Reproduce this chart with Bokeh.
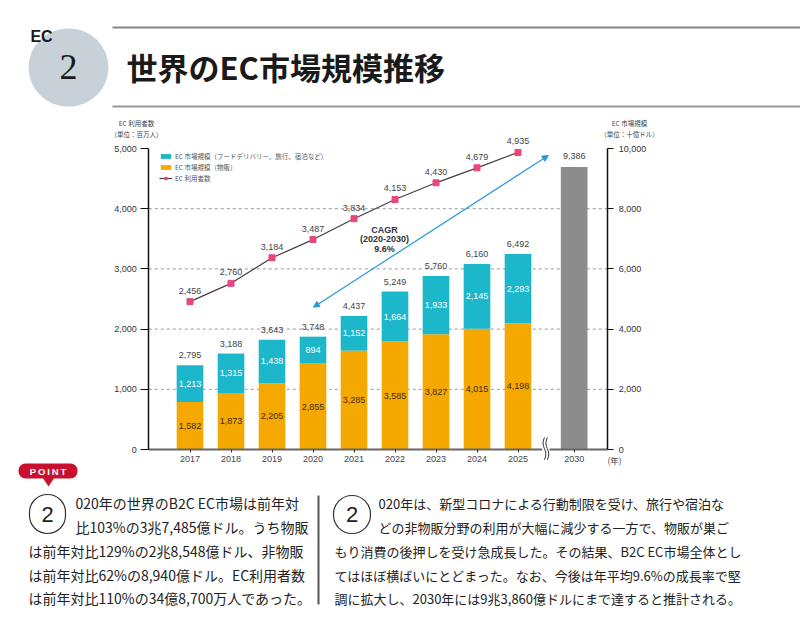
from bokeh.plotting import figure
from bokeh.models import (Range1d, LinearAxis, FixedTicker, NumeralTickFormatter,
                          ColumnDataSource, LabelSet, Label, BoxAnnotation, Grid,
                          PolyAnnotation, Arrow, NormalHead, Legend, LegendItem)
from bokeh.embed import file_html
from bokeh.resources import INLINE
from bokeh.core.properties import value

# ---------------- data ----------------
years = ["2017", "2018", "2019", "2020", "2021", "2022", "2023", "2024", "2025"]
year_2030 = "2030"
goods = [1582, 1873, 2205, 2855, 3285, 3585, 3827, 4015, 4198]          # EC市場規模（物販）
services = [1213, 1315, 1438, 894, 1152, 1664, 1933, 2145, 2293]        # 非物販
totals = [2795, 3188, 3643, 3748, 4437, 5249, 5760, 6160, 6492]
total_2030 = 9386
users = [2456, 2760, 3184, 3487, 3834, 4153, 4430, 4679, 4935]          # EC利用者数
left_ticks = [0, 1000, 2000, 3000, 4000, 5000]
right_ticks = [0, 2000, 4000, 6000, 8000, 10000]
grid_ticks = [1000, 2000, 3000, 4000]

title_text = "世界のEC市場規模推移"
legend_labels = ["EC 市場規模（フードデリバリー、旅行、宿泊など）", "EC 市場規模（物販）", "EC 利用者数"]
left_title = ["EC 利用者数", "（単位：百万人）"]
right_title = ["EC 市場規模", "（単位：十億ドル）"]
cagr_lines = ["CAGR", "(2020-2030)", "9.6%"]
text_left = ["020年の世界のB2C EC市場は前年対",
             "比103%の3兆7,485億ドル。うち物販",
             "は前年対比129%の2兆8,548億ドル、非物販",
             "は前年対比62%の8,940億ドル。EC利用者数",
             "は前年対比110%の34億8,700万人であった。"]
text_right = ["020年は、新型コロナによる行動制限を受け、旅行や宿泊な",
              "どの非物販分野の利用が大幅に減少する一方で、物販が巣ご",
              "もり消費の後押しを受け急成長した。その結果、B2C EC市場全体とし",
              "てはほぼ横ばいにとどまった。なお、今後は年平均9.6%の成長率で堅",
              "調に拡大し、2030年には9兆3,860億ドルにまで達すると推計される。"]

# ---------------- styles ----------------
CYAN = "#1db7cc"
ORANGE = "#f5a800"
GRAY = "#8c8c8c"
PINK = "#e8467c"
LINEC = "#4d3d3d"
BLUE = "#2399d6"
JP = "Noto Sans CJK JP"
NUM = "Liberation Sans"

xs = list(range(len(years)))
x2030 = xs[-1] + 1.37
bw = 0.65
x_left_axis = -1.005
x_right_axis = 10.19
x_break = 8.68

W, H = 800, 618
# pixel mapping: x=0 -> 189.5px, 41px per unit; y=0 -> 449px, 301px per 5000
p = figure(width=W, height=H, output_backend="svg", toolbar_location=None,
           x_range=Range1d(-189.5 / 41, (W - 189.5) / 41),
           y_range=Range1d(-(H - 449) * 5000 / 301, 449 * 5000 / 301),
           x_axis_location=None, y_axis_location=None, min_border=0)
p.title.visible = False
p.outline_line_color = None
p.background_fill_color = "white"
p.border_fill_color = "white"
p.center = [r for r in p.center if not isinstance(r, Grid)]
p.extra_y_ranges = {"right": Range1d(-(H - 449) * 10000 / 301, 449 * 10000 / 301)}

# dashed grid lines between the two axes
grid_r = p.segment(x0=[x_left_axis] * len(grid_ticks), x1=[x_right_axis] * len(grid_ticks),
                   y0=grid_ticks, y1=grid_ticks, line_color="#9a9a9a",
                   line_dash="3 3", line_width=1)
grid_r.level = "underlay"

def style_axis(ax, tick_out, standoff):
    ax.axis_line_color = "#111"
    ax.axis_line_width = 1.5
    ax.major_tick_out = tick_out
    ax.major_tick_in = 0
    ax.major_tick_line_color = "#111"
    ax.minor_tick_line_color = None
    ax.major_label_standoff = standoff
    ax.major_label_text_font = NUM
    ax.major_label_text_font_size = "9px"
    ax.major_label_text_color = "#333"

ya = LinearAxis(ticker=FixedTicker(ticks=left_ticks), bounds=(0, 5000),
                formatter=NumeralTickFormatter(format="0,0"), fixed_location=x_left_axis)
style_axis(ya, 8, 4)
p.add_layout(ya, "left")

ra = LinearAxis(y_range_name="right", ticker=FixedTicker(ticks=right_ticks),
                bounds=(0, 10000), formatter=NumeralTickFormatter(format="0,0"),
                fixed_location=x_right_axis)
style_axis(ra, 6, 5)
p.add_layout(ra, "right")

overrides = {x: y for x, y in zip(xs, years)}
overrides[x2030] = year_2030
xa = LinearAxis(ticker=FixedTicker(ticks=xs + [x2030]), bounds=(x_left_axis, x_right_axis),
                major_label_overrides=overrides, fixed_location=0)
style_axis(xa, 3, 3)
xa.axis_line_color = "#666"
xa.axis_line_width = 2
xa.major_tick_line_color = "#333"
xa.major_label_text_color = "#444"
p.add_layout(xa, "below")

# ---------------- bars ----------------
stack_top = [g + s for g, s in zip(goods, services)]
src_g = ColumnDataSource(dict(x=xs, top=goods, mid=[g / 2 for g in goods],
                              text=[f"{g:,}" for g in goods]))
src_s = ColumnDataSource(dict(x=xs, bottom=goods, top=stack_top,
                              mid=[g + s / 2 for g, s in zip(goods, services)],
                              text=[f"{s:,}" for s in services]))
src_t = ColumnDataSource(dict(x=xs, top=stack_top, text=[f"{t:,}" for t in totals]))
src_30 = ColumnDataSource(dict(x=[x2030], top=[total_2030], text=[f"{total_2030:,}"]))

r_g = p.vbar(x="x", top="top", bottom=0, width=bw, source=src_g, y_range_name="right",
             fill_color=ORANGE, line_color=None)
r_s = p.vbar(x="x", top="top", bottom="bottom", width=bw, source=src_s, y_range_name="right",
             fill_color=CYAN, line_color=None)
p.vbar(x="x", top="top", bottom=0, width=bw, source=src_30, y_range_name="right",
       fill_color=GRAY, line_color=None)

p.add_layout(LabelSet(x="x", y="mid", text="text", source=src_g, y_range_name="right",
                      text_align="center", text_baseline="middle", text_font=value(NUM),
                      text_font_size="9px", text_color="#3d2f14"))
p.add_layout(LabelSet(x="x", y="mid", text="text", source=src_s, y_range_name="right",
                      text_align="center", text_baseline="middle", text_font=value(NUM),
                      text_font_size="9px", text_color="white"))
p.add_layout(LabelSet(x="x", y="top", text="text", source=src_t, y_range_name="right",
                      y_offset=10, text_align="center", text_baseline="middle",
                      text_font=value(NUM), text_font_size="9px", text_color="#444"))
p.add_layout(LabelSet(x="x", y="top", text="text", source=src_30, y_range_name="right",
                      y_offset=11, text_align="center", text_baseline="middle",
                      text_font=value(NUM), text_font_size="9px", text_color="#444"))

# ---------------- users line ----------------
src_u = ColumnDataSource(dict(x=xs, y=users, text=[f"{u:,}" for u in users]))
r_l = p.line(x="x", y="y", source=src_u, line_color=LINEC, line_width=1.2)
r_m = p.scatter(x="x", y="y", source=src_u, marker="square", size=6,
                fill_color=PINK, line_color=PINK)
p.add_layout(LabelSet(x="x", y="y", text="text", source=src_u, y_offset=11,
                      text_align="center", text_baseline="middle", text_font=value(NUM),
                      text_font_size="9px", text_color="#444"))

# ---------------- legend ----------------
legend = Legend(items=[LegendItem(label=legend_labels[0], renderers=[r_s]),
                       LegendItem(label=legend_labels[1], renderers=[r_g]),
                       LegendItem(label=legend_labels[2], renderers=[r_l, r_m])],
                location=(159, H - 183), orientation="vertical",
                label_text_font=JP, label_text_font_size="6.5px", label_text_color="#555",
                glyph_width=13, glyph_height=6, label_height=9, label_standoff=3,
                spacing=1, padding=0, margin=0, border_line_color=None,
                background_fill_alpha=0)
p.add_layout(legend)

# ---------------- annotations (screen coords: canvas px from top-left) ----------------
def sx(X):
    return X

def sy(Y):
    return H - Y

def txt(X, Y, t, size, color="#222", font=JP, align="left", style="normal"):
    p.add_layout(Label(x=sx(X), y=sy(Y), x_units="screen", y_units="screen", text=t,
                       text_font=font, text_font_size=size, text_color=color,
                       text_align=align, text_baseline="middle", text_font_style=style))

def box(X1, Y1, X2, Y2, fill=None, line=None, lw=1, radius=0):
    p.add_layout(BoxAnnotation(left=sx(X1), right=sx(X2), top=sy(Y1), bottom=sy(Y2),
                               left_units="screen", right_units="screen",
                               top_units="screen", bottom_units="screen",
                               fill_color=fill if fill else "white",
                               fill_alpha=1 if fill else 0,
                               line_color=line, line_alpha=1, line_width=lw,
                               border_radius=radius))

# axis titles
txt(136, 122, left_title[0], "6.5px", "#444", align="center")
txt(136, 133, left_title[1], "6.5px", "#444", align="center")
txt(629, 122, right_title[0], "6.5px", "#444", align="center")
txt(629, 133, right_title[1], "6.5px", "#444", align="center")
txt(614, 459, "(年)", "8.5px", "#444", align="center")

# axis break mark: white gap + two S-curves
p.add_layout(BoxAnnotation(left=x_break - 0.09, right=x_break + 0.09, top=80, bottom=-80,
                           fill_color="white", fill_alpha=1, line_color=None))
dx = 0.035
brk = p.bezier(x0=[x_break - dx, x_break + dx], y0=[200, 200],
               x1=[x_break - dx, x_break + dx], y1=[-170, -170],
               cx0=[x_break - dx - 0.12, x_break + dx - 0.12], cy0=[20, 20],
               cx1=[x_break - dx + 0.12, x_break + dx + 0.12], cy1=[10, 10],
               line_color="#333", line_width=1)
brk.level = "overlay"

# CAGR arrow
p.add_layout(Arrow(start=NormalHead(size=6, fill_color=BLUE, line_color=BLUE),
                   end=NormalHead(size=6, fill_color=BLUE, line_color=BLUE),
                   x_start=3.01, y_start=2364, x_end=8.74, y_end=4884,
                   line_color=BLUE, line_width=1.2))
for i, t in enumerate(cagr_lines):
    txt(384, 229 + i * 9.7, t, "9px", "#333", font=NUM, align="center", style="bold")

# header
box(112, 26, 800, 28, fill="#858585")
box(112, 105, 800, 107, fill="#9a9a9a")
box(28, 28, 108, 106, fill="#c9d1d8", radius=40)
txt(41, 36, "EC", "16px", "#1a1a1a", font=NUM, align="center", style="bold")
txt(68, 66, "2", "36px", "#1a1a1a", font="Liberation Serif", align="center")
txt(126, 66, title_text, "31px", "#1a1a1a", style="bold")

# POINT badge
box(18, 463, 77, 478, fill="#c8102e", radius=7)
p.add_layout(PolyAnnotation(xs=[sx(42), sx(54), sx(48)], ys=[sy(477), sy(477), sy(486)],
                            xs_units="screen", ys_units="screen", fill_color="#c8102e",
                            fill_alpha=1, line_color=None))
txt(47.5, 471, "\u2009".join("POINT"), "9.5px", "white", font=NUM, align="center", style="bold")

# circled 2s
box(29, 494, 65, 533, line="#333", lw=1.2, radius=19)
txt(47, 514, "2", "22px", "#222", font=NUM, align="center")
box(333, 495, 370, 533, line="#333", lw=1.2, radius=19)
txt(351.5, 514, "2", "22px", "#222", font=NUM, align="center")

# separator
box(317, 495, 319, 604, fill="#555")

# body text
ys_body = [502.7, 526.7, 550.7, 574.7, 597.7]
for i, t in enumerate(text_left):
    txt(75 if i < 2 else 28, ys_body[i], t, "14px", "#222")
for i, t in enumerate(text_right):
    txt(378 if i < 2 else 334, ys_body[i], t, "13px", "#222")

open("out.html", "w").write(file_html(p, INLINE))
